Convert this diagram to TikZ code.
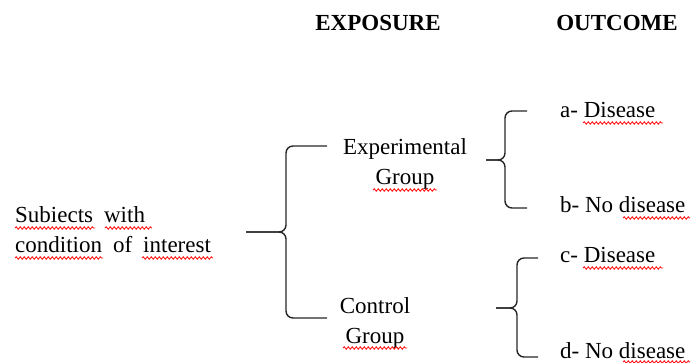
\documentclass[tikz,border=0pt]{standalone}
\usepackage{fontspec}
\setmainfont{Liberation Serif}
\usetikzlibrary{positioning,decorations.pathmorphing}
\tikzset{
  txt/.style={inner sep=0pt, font=\fontsize{23}{30}\selectfont},
  head/.style={inner sep=0pt, font=\fontsize{23}{30}\selectfont\bfseries},
  brace/.style={draw=black!85, line width=1.4pt, rounded corners=7pt},
  squiggle/.style={draw=red!90, line width=0.9pt, decorate, decoration={snake, amplitude=1.2pt, segment length=4pt}}
}

\begin{document}
\begin{tikzpicture}[x=1pt,y=-1pt]
      \useasboundingbox (0,0) rectangle (693,363);
      \node[head, anchor=base] (expo) at (378,31) {EXPOSURE};
      \node[head, anchor=base] (outc) at (617,31) {OUTCOME};
      \node[txt, anchor=base west, align=left] (subj) at (15,253) {\spaceskip=11pt Subiects with\\\spaceskip=11pt condition of interest};
      \node[txt, anchor=base, align=center] (expg) at (405,185) {Experimental\\Group};
      \node[txt, anchor=base, align=center] (ctrl) at (375,343) {Control\\Group};
      \node[txt, anchor=base west] (outa) at (560,118) {a- Disease};
      \node[txt, anchor=base west] (outb) at (560,213) {b- No disease};
      \node[txt, anchor=base west] (outc2) at (560,262) {c- Disease};
      \node[txt, anchor=base west] (outd) at (560,358) {d- No disease};
      % brace tips, corners and ends
      \coordinate (tip1) at (246,232); \coordinate (mid1) at (286,232);
      \coordinate (top1) at (327,146); \coordinate (bot1) at (327,318);
      \coordinate (tip2) at (486,160); \coordinate (mid2) at (505,160);
      \coordinate (top2) at (527,111); \coordinate (bot2) at (527,208);
      \coordinate (tip3) at (496,308); \coordinate (mid3) at (517,308);
      \coordinate (top3) at (538,258); \coordinate (bot3) at (538,357);
      \foreach \b in {1,2,3} {
        \draw[brace] (top\b) -| (mid\b) -- (tip\b);
        \draw[brace] (bot\b) -| (mid\b) -- (tip\b);
      }
      % spell-check underlines
      \foreach \xa/\xb/\yy in {15/95/228, 105/152/228, 15/103/258, 142/213/258, 373/437/190,
          583/663/123, 623/690/218, 343/407/348, 583/663/268, 623/690/362}
        \draw[squiggle] (\xa,\yy) -- (\xb,\yy);
\end{tikzpicture}
\end{document}
